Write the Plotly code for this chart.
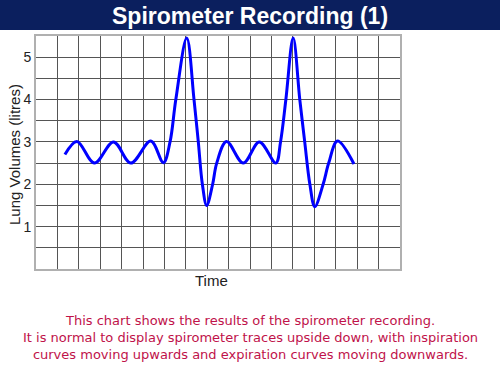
import plotly.graph_objects as go

# Time positions (grid units) and lung volume (litres)
time_pts = [1.35, 1.91, 2.73, 3.62, 4.43, 5.36, 5.95, 6.26, 6.53, 7.04, 7.38, 7.58, 7.77,
            7.97, 8.25, 8.44, 8.9, 9.68, 10.43, 11.2, 11.42, 11.67, 12.01, 12.32, 12.55,
            12.79, 13.02, 13.41, 13.67, 14.08, 14.85]
volume = [2.70, 3.01, 2.50, 3.00, 2.50, 3.02, 2.51, 3.0, 4.0, 5.45, 4.0, 3.0, 2.0,
          1.5, 2.0, 2.5, 3.01, 2.5, 3.0, 2.5, 3.0, 4.0, 5.45, 4.0, 3.0,
          2.0, 1.47, 2.0, 2.5, 3.02, 2.48]

y_tick_vals = [0, 0.5, 1, 1.5, 2, 2.5, 3, 3.5, 4, 4.5, 5, 5.5]
y_tick_text = ["", "", "1", "", "2", "", "3", "", "4", "", "5", ""]

title_text = "Spirometer Recording (1)"
y_title = "Lung Volumes (litres)"
x_title = "Time"
caption = ("This chart shows the results of the spirometer recording.<br>"
           "It is normal to display spirometer traces upside down, with inspiration<br>"
           "curves moving upwards and expiration curves moving downwards.")

fig = go.Figure()
fig.add_trace(go.Scatter(
    x=time_pts, y=volume, mode="lines",
    line=dict(color="#0000ff", width=3, shape="spline", smoothing=1.0),
    hoverinfo="skip", showlegend=False,
))

fig.update_layout(
    width=500, height=375,
    margin=dict(l=36, r=100, t=36, b=106),
    paper_bgcolor="white", plot_bgcolor="white",
    font=dict(family="Liberation Sans, Arial, sans-serif", color="#222222"),
    xaxis=dict(range=[0, 17], dtick=1, tick0=0, showticklabels=False,
               showgrid=True, gridcolor="#555555", gridwidth=1, zeroline=False,
               showline=True, mirror=True, linecolor="#b0b0b0", linewidth=2,
               ticks="", fixedrange=True, automargin=False),
    yaxis=dict(range=[0, 5.5], tickvals=y_tick_vals, ticktext=y_tick_text,
               showgrid=True, gridcolor="#555555", gridwidth=1, zeroline=False,
               showline=True, mirror=True, linecolor="#b0b0b0", linewidth=2,
               ticks="", tickfont=dict(size=14, color="#222222"),
               fixedrange=True, automargin=False),
    shapes=[dict(type="rect", xref="paper", yref="paper",
                 x0=-0.2, x1=1.4, y0=(269 - 30) / 233, y1=1.3,
                 fillcolor="#0b1f5e", line=dict(width=0), layer="above")],
    annotations=[
        dict(text="<b>" + title_text + "</b>", xref="paper", yref="paper",
             x=(250 - 36) / 364, y=(269 - 16) / 233, xanchor="center", yanchor="middle",
             showarrow=False, font=dict(size=23, color="white",
                                        family="Liberation Sans, Arial, sans-serif")),
        dict(text=y_title, xref="paper", yref="paper", textangle=-90,
             x=(14 - 36) / 364, y=(269 - 155) / 233, xanchor="center", yanchor="middle",
             showarrow=False, font=dict(size=15, color="#222222")),
        dict(text=x_title, xref="paper", yref="paper",
             x=(211.5 - 36) / 364, y=(269 - 280) / 233, xanchor="center", yanchor="middle",
             showarrow=False, font=dict(size=15, color="#222222")),
        dict(text=caption, xref="paper", yref="paper",
             x=(250 - 36) / 364, y=(269 - 337.5) / 233, xanchor="center", yanchor="middle",
             align="center", showarrow=False,
             font=dict(size=13, color="#c0124a", family="DejaVu Sans, sans-serif")),
    ],
)

fig.write_html("out.html", config={"displayModeBar": False},
               post_script="document.body.style.margin='0';")
